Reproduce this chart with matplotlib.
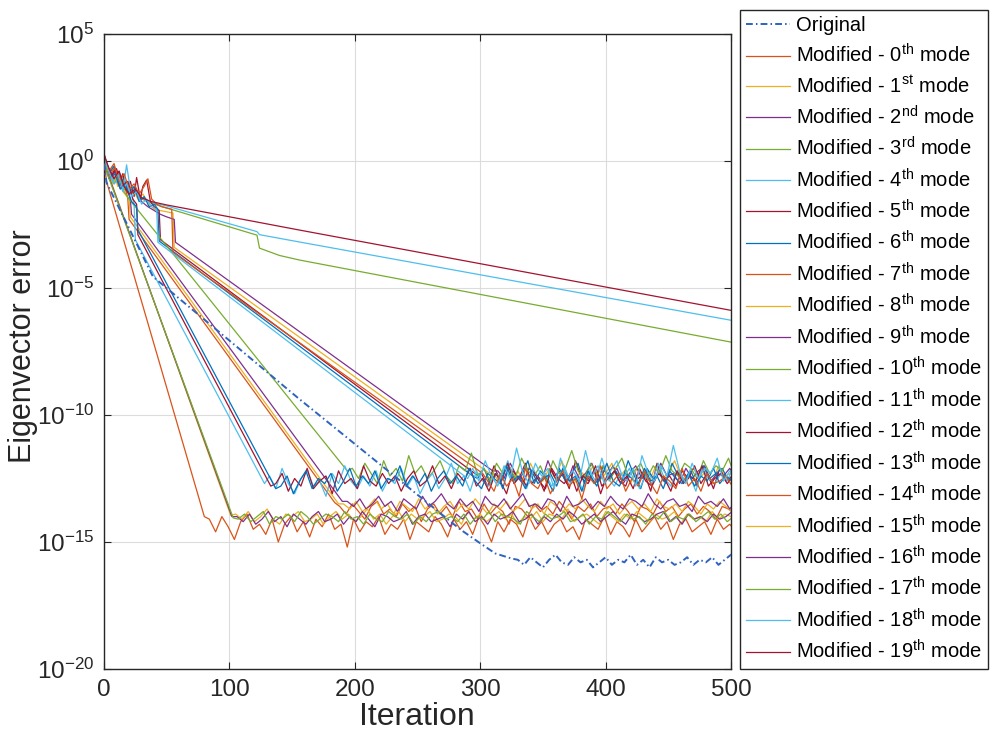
import numpy as np
import matplotlib
matplotlib.use("Agg")
import matplotlib.pyplot as plt
from matplotlib.ticker import FixedLocator, NullLocator

plt.rcParams['font.family'] = ['Liberation Sans', 'DejaVu Sans']
plt.rcParams['mathtext.fontset'] = 'custom'
plt.rcParams['mathtext.rm'] = 'Liberation Sans'
plt.rcParams['mathtext.it'] = 'Liberation Sans:italic'
plt.rcParams['mathtext.bf'] = 'Liberation Sans:bold'
plt.rcParams['mathtext.sf'] = 'Liberation Sans'

# ---------------- data (log10 of eigenvector error) ----------------
# head: breakpoints (iteration, log10 error); floor: log10 error x10, every 5 iterations
orig_hx = [0, 2, 39, 154, 219, 284, 300, 312, 325]
orig_hy = [-0.1, -0.85, -4.55, -9.3, -11.9, -14.5, -15.05, -15.45, -15.65]
orig_f0 = 330
orig_floor = [-157,-159,-156,-158,-160,-157,-155,-158,-159,-156,
              -158,-157,-160,-158,-156,-159,-157,-158,-155,-159,
              -157,-160,-156,-158,-157,-159,-158,-156,-159,-157,
              -158,-156,-159,-157,-155,-156,-158,-157,-156,-155]

m0_hx = [0, 2, 80]
m0_hy = [0.05, -0.8, -14.0]
m0_f0 = 84
m0_floor = [-141,-146,-140,-144,-149,-142,-139,-145,-143,-147,
            -141,-150,-143,-140,-146,-142,-148,-141,-144,-139,
            -145,-143,-152,-141,-146,-142,-144,-140,-147,-143,
            -145,-141,-149,-142,-144,-146,-140,-143,-148,-141,
            -145,-142,-147,-140,-144,-150,-142,-146,-141,-143,
            -148,-140,-145,-142,-147,-143,-141,-146,-144,-149,
            -141,-143,-145,-140,-147,-142,-144,-148,-141,-146,
            -143,-140,-145,-142,-149,-143,-141,-146,-144,-142,
            -147,-141,-145,-143,-146,-142,-144,-148,-141,-145]

m1_hx = [0, 3, 7, 11, 14, 19, 23, 27, 31, 36, 40, 45, 50, 55, 56, 306]
m1_hy = [0.15, -0.5, -0.3, -1.0, -0.6, -1.2, -1.1, -1.5, -1.3, -1.7, -1.9, -1.95, -2.0, -2.05, -3.4, -12.25]
m1_f0 = 310
m1_floor = [-123,-126,-120,-125,-122,-127,-119,-124,-126,-121,
            -125,-118,-124,-127,-122,-125,-120,-126,-123,-119,
            -125,-122,-127,-121,-124,-126,-120,-125,-123,-118,
            -124,-126,-121,-125,-122,-127,-120,-124,-123,-125,
            -122,-124]

m2_hx = [0, 4, 8, 12, 16, 20, 25, 30, 35, 40, 45, 50, 56, 57, 310]
m2_hy = [0.1, -0.3, -0.7, -0.4, -1.0, -1.3, -1.2, -1.6, -1.8, -1.95, -2.1, -2.2, -2.3, -3.2, -12.2]
m2_f0 = 314
m2_floor = [-122,-125,-119,-124,-127,-121,-123,-126,-118,-124,
            -122,-127,-120,-125,-123,-119,-126,-122,-124,-121,
            -127,-123,-120,-125,-122,-126,-119,-124,-123,-127,
            -121,-125,-122,-120,-126,-123,-124,-121,-125,-123,
            -122,-124]

m3_hx = [0, 4, 8, 12, 16, 20, 25, 30, 40, 50, 122, 124, 140, 156, 500]
m3_hy = [0.2, -0.4, -0.8, -0.5, -1.1, -1.3, -1.2, -1.5, -1.7, -1.85, -2.92, -3.43, -3.72, -3.9, -7.13]
m3_f0 = 500
m3_floor = []

m4_hx = [0, 3, 7, 11, 15, 19, 23, 28, 35, 50, 122, 124, 156, 500]
m4_hy = [0.1, -0.5, -0.2, -0.9, -0.6, -1.2, -1.0, -1.4, -1.6, -1.77, -2.78, -2.9, -3.19, -6.27]
m4_f0 = 500
m4_floor = []

m5_hx = [0, 3, 6, 9, 12, 15, 18, 21, 24, 26, 29, 31, 34, 37, 40, 44, 45, 297]
m5_hy = [0.3, -0.2, -0.6, -0.3, -0.9, -0.5, -1.2, -0.8, -1.4, -0.65, -1.5, -1.0, -0.75, -1.6, -1.8, -1.95, -3.1, -12.35]
m5_f0 = 301
m5_floor = [-123,-128,-120,-126,-131,-122,-125,-119,-127,-124,
            -130,-121,-126,-123,-129,-118,-125,-127,-122,-131,
            -124,-120,-126,-128,-121,-125,-123,-130,-119,-126,
            -124,-128,-122,-125,-120,-127,-123,-129,-121,-126,
            -124,-127,-122,-125]

m6_hx = [0, 4, 8, 12, 16, 20, 24, 28, 32, 36, 40, 43, 44, 294]
m6_hy = [0.1, -0.5, -0.2, -0.9, -0.7, -1.3, -1.0, -1.6, -1.4, -1.8, -1.7, -1.9, -3.15, -12.4]
m6_f0 = 298
m6_floor = [-125,-121,-127,-123,-129,-120,-126,-124,-118,-127,
            -122,-125,-130,-121,-126,-123,-119,-127,-124,-128,
            -120,-125,-122,-126,-118,-124,-129,-121,-125,-123,
            -127,-119,-124,-126,-122,-128,-120,-125,-123,-121,
            -126,-124,-122,-125,-123]

m7_hx = [0, 4, 8, 12, 16, 19, 20, 184]
m7_hy = [0.2, -0.6, -0.3, -1.0, -0.8, -1.5, -2.3, -13.45]
m7_f0 = 188
m7_floor = [-136,-139,-135,-138,-141,-136,-134,-139,-137,-140,
            -135,-138,-136,-142,-137,-135,-139,-136,-140,-134,
            -138,-137,-141,-135,-139,-136,-138,-143,-136,-137,
            -140,-135,-138,-136,-139,-134,-137,-141,-136,-138,
            -135,-140,-137,-136,-139,-135,-138,-142,-136,-137,
            -139,-134,-138,-136,-140,-137,-135,-139,-136,-138,
            -141,-136,-137,-139,-135,-138,-136,-139]

m8_hx = [0, 3, 7, 11, 15, 20, 21, 187]
m8_hy = [0.1, -0.4, -0.9, -0.6, -1.2, -1.5, -2.2, -13.5]
m8_f0 = 191
m8_floor = [-135,-137,-134,-138,-136,-133,-137,-135,-139,-134,
            -136,-138,-133,-137,-135,-139,-136,-134,-138,-135,
            -137,-133,-136,-139,-135,-137,-134,-138,-136,-133,
            -137,-135,-139,-134,-136,-138,-135,-137,-133,-136,
            -138,-134,-137,-135,-139,-136,-134,-137,-135,-138,
            -133,-136,-137,-135,-138,-134,-136,-139,-135,-137,
            -134,-136,-138,-135,-137,-134,-136,-138]

m9_hx = [0, 5, 9, 13, 17, 21, 22, 190]
m9_hy = [0.0, -0.7, -0.4, -1.1, -0.9, -1.5, -2.1, -13.4]
m9_f0 = 194
m9_floor = [-134,-136,-133,-137,-135,-132,-136,-134,-138,-133,
            -135,-137,-132,-136,-134,-131,-135,-137,-133,-136,
            -134,-138,-132,-135,-136,-133,-137,-134,-131,-136,
            -135,-137,-133,-134,-138,-132,-136,-135,-133,-137,
            -134,-136,-132,-135,-137,-133,-134,-136,-131,-135,
            -137,-134,-133,-136,-135,-138,-132,-135,-134,-136,
            -133,-137,-134,-135,-136,-133,-135]

m10_hx = [0, 4, 8, 12, 16, 20, 194]
m10_hy = [0.1, -0.5, -0.9, -0.6, -1.2, -1.5, -12.2]
m10_f0 = 198
m10_floor = [-121,-125,-119,-123,-127,-118,-124,-121,-126,-116,
             -123,-120,-125,-122,-118,-124,-127,-120,-122,-115,
             -124,-121,-126,-119,-123,-120,-125,-117,-122,-124,
             -120,-126,-118,-123,-121,-114,-122,-125,-119,-123,
             -120,-126,-121,-117,-124,-122,-119,-125,-120,-123,
             -116,-122,-124,-119,-121,-125,-118,-123,-120,-122,
             -117,-124,-121,-123,-119,-122]

m11_hx = [0, 4, 8, 12, 15, 18, 21, 24, 25, 128]
m11_hy = [0.15, -0.4, -0.9, -0.7, -1.2, -0.15, -1.1, -1.7, -3.1, -12.7]
m11_f0 = 132
m11_floor = [-124,-129,-121,-127,-131,-125,-122,-128,-126,-132,
             -123,-127,-120,-126,-129,-124,-128,-122,-130,-125,
             -127,-121,-128,-124,-131,-126,-123,-129,-125,-119,
             -127,-124,-130,-122,-126,-128,-123,-125,-118,-127,
             -124,-129,-121,-126,-123,-128,-125,-120,-127,-124,
             -130,-122,-126,-117,-125,-128,-123,-126,-121,-129,
             -124,-127,-119,-125,-128,-122,-126,-124,-130,-121,
             -125,-127,-123,-126,-120,-125,-122,-127,-124,-126]

m12_hx = [0, 5, 10, 14, 19, 23, 26, 27, 133]
m12_hy = [0.2, -0.6, -0.3, -1.0, -0.8, -1.5, -1.7, -2.9, -12.8]
m12_f0 = 137
m12_floor = [-127,-123,-130,-125,-128,-121,-129,-126,-124,-131,
             -122,-127,-125,-129,-120,-126,-128,-123,-127,-124,
             -130,-125,-122,-128,-126,-120,-127,-124,-129,-123,
             -126,-121,-128,-125,-130,-123,-126,-119,-127,-124,
             -128,-122,-126,-129,-121,-125,-127,-123,-130,-124,
             -126,-120,-128,-125,-122,-127,-124,-129,-121,-126,
             -128,-123,-125,-130,-122,-127,-124,-126,-120,-128,
             -125,-123,-127,-124,-126,-122,-128,-125,-123,-126]

m13_hx = [0, 4, 9, 13, 17, 22, 26, 27, 137]
m13_hy = [0.0, -0.7, -0.5, -1.1, -0.9, -1.6, -1.8, -2.7, -12.9]
m13_f0 = 141
m13_floor = [-128,-124,-131,-126,-122,-129,-125,-127,-123,-130,
             -126,-121,-128,-124,-127,-122,-129,-125,-126,-120,
             -128,-124,-127,-123,-130,-125,-122,-127,-124,-128,
             -121,-126,-129,-123,-125,-127,-120,-126,-124,-129,
             -122,-127,-125,-123,-128,-121,-126,-124,-130,-122,
             -127,-125,-119,-126,-128,-123,-125,-127,-121,-126,
             -124,-129,-122,-125,-127,-123,-128,-124,-126,-121,
             -127,-124,-126,-122,-128,-125,-123,-127,-124,-126]

m14_hx = [0, 4, 8, 12, 16, 20, 24, 28, 32, 35, 38, 42, 46, 50, 54, 55, 302]
m14_hy = [0.2, -0.4, -0.1, -0.8, -0.5, -1.1, -0.9, -1.3, -1.0, -0.7, -1.5, -1.7, -1.8, -1.85, -1.9, -3.6, -12.3]
m14_f0 = 306
m14_floor = [-126,-130,-123,-128,-125,-132,-121,-127,-129,-124,
             -131,-126,-122,-128,-125,-133,-124,-127,-120,-129,
             -126,-123,-130,-125,-128,-122,-127,-131,-124,-126,
             -129,-121,-128,-125,-130,-123,-127,-126,-124,-128,
             -125,-127,-126]

m15_hx = [0, 3, 101]
m15_hy = [0.1, -0.45, -13.95]
m15_f0 = 105
m15_floor = [-139,-141,-138,-142,-140,-137,-141,-143,-139,-140,
             -138,-142,-141,-139,-143,-140,-138,-141,-139,-142,
             -140,-137,-141,-139,-143,-140,-138,-142,-139,-141,
             -140,-138,-142,-141,-139,-140,-143,-138,-141,-139,
             -142,-140,-138,-141,-139,-143,-140,-141,-138,-142,
             -139,-140,-141,-137,-142,-140,-139,-141,-143,-138,
             -140,-142,-139,-141,-138,-140,-142,-139,-141,-140,
             -138,-143,-139,-141,-140,-142,-138,-141,-139,-140,
             -141,-139,-142,-140,-138]

m16_hx = [0, 3, 102]
m16_hy = [-0.05, -0.5, -14.0]
m16_f0 = 106
m16_floor = [-140,-142,-139,-143,-141,-138,-142,-140,-144,-139,
             -141,-143,-140,-138,-142,-141,-139,-143,-140,-142,
             -138,-141,-144,-139,-140,-142,-141,-138,-143,-140,
             -139,-142,-141,-140,-144,-139,-141,-138,-142,-140,
             -143,-139,-141,-140,-138,-142,-141,-139,-143,-140,
             -142,-139,-141,-138,-140,-143,-141,-139,-142,-140,
             -138,-141,-143,-139,-140,-142,-141,-139,-138,-142,
             -140,-143,-139,-141,-140,-142,-139,-141,-140,-138,
             -142,-140,-141,-139,-142]

m17_hx = [0, 3, 103]
m17_hy = [0.05, -0.55, -14.05]
m17_f0 = 107
m17_floor = [-141,-139,-142,-140,-138,-143,-140,-141,-139,-142,
             -138,-140,-143,-141,-139,-140,-142,-138,-141,-140,
             -143,-139,-141,-142,-138,-140,-141,-139,-143,-140,
             -142,-139,-138,-141,-140,-142,-139,-143,-140,-141,
             -138,-142,-139,-140,-141,-143,-138,-140,-142,-139,
             -141,-140,-138,-142,-141,-139,-143,-140,-141,-138,
             -140,-142,-139,-141,-140,-143,-139,-141,-138,-142,
             -140,-141,-139,-142,-140,-138,-141,-139,-142,-140,
             -141,-139,-140,-142,-139]

m18_hx = [0, 3, 7, 11, 15, 18, 22, 26, 30, 34, 38, 42, 43, 290]
m18_hy = [0.2, -0.3, -0.8, -0.5, -1.1, -0.9, -1.4, -1.2, -1.7, -1.5, -1.8, -1.9, -3.2, -12.5]
m18_f0 = 294
m18_floor = [-121,-126,-118,-124,-128,-120,-125,-113,-123,-127,
             -119,-124,-121,-129,-117,-125,-122,-126,-114,-124,
             -120,-127,-122,-118,-125,-121,-128,-116,-123,-126,
             -120,-124,-112,-122,-127,-119,-125,-121,-123,-117,
             -126,-122,-124,-120,-125,-122]

m19_hx = [0, 4, 8, 12, 16, 20, 25, 30, 38, 50, 156, 500]
m19_hy = [0.25, -0.3, -0.7, -0.4, -1.0, -1.3, -1.1, -1.45, -1.6, -1.73, -2.72, -5.88]
m19_f0 = 500
m19_floor = []

mode_labels = [
    r'Modified - 0$^{\mathrm{th}}$ mode', r'Modified - 1$^{\mathrm{st}}$ mode',
    r'Modified - 2$^{\mathrm{nd}}$ mode', r'Modified - 3$^{\mathrm{rd}}$ mode',
] + [r'Modified - %d$^{\mathrm{th}}$ mode' % k for k in range(4, 20)]

x_ticks = [0, 100, 200, 300, 400, 500]
y_tick_exponents = [-20, -15, -10, -5, 0, 5]

# MATLAB default colour order
matlab_colors = ['#0072BD', '#D95319', '#EDB120', '#7E2F8E', '#77AC30', '#4DBEEE', '#A2142F']

heads_x = [m0_hx, m1_hx, m2_hx, m3_hx, m4_hx, m5_hx, m6_hx, m7_hx, m8_hx, m9_hx,
           m10_hx, m11_hx, m12_hx, m13_hx, m14_hx, m15_hx, m16_hx, m17_hx, m18_hx, m19_hx]
heads_y = [m0_hy, m1_hy, m2_hy, m3_hy, m4_hy, m5_hy, m6_hy, m7_hy, m8_hy, m9_hy,
           m10_hy, m11_hy, m12_hy, m13_hy, m14_hy, m15_hy, m16_hy, m17_hy, m18_hy, m19_hy]
floor_starts = [m0_f0, m1_f0, m2_f0, m3_f0, m4_f0, m5_f0, m6_f0, m7_f0, m8_f0, m9_f0,
                m10_f0, m11_f0, m12_f0, m13_f0, m14_f0, m15_f0, m16_f0, m17_f0, m18_f0, m19_f0]
floors = [m0_floor, m1_floor, m2_floor, m3_floor, m4_floor, m5_floor, m6_floor, m7_floor,
          m8_floor, m9_floor, m10_floor, m11_floor, m12_floor, m13_floor, m14_floor,
          m15_floor, m16_floor, m17_floor, m18_floor, m19_floor]


def build(hx, hy, f0, floor):
    fx = f0 + 5 * np.arange(len(floor))
    x = np.concatenate([np.asarray(hx, float), fx.astype(float)])
    y = np.concatenate([np.asarray(hy, float), np.asarray(floor, float) / 10.0])
    return x, 10.0 ** y


# ---------------- figure ----------------
fig = plt.figure(figsize=(9.96, 7.40), dpi=100)
ax = fig.add_axes([104 / 996, 1 - 669 / 740, (731 - 104) / 996, (669 - 34) / 740])

handles = []
ox, oy = build(orig_hx, orig_hy, orig_f0, orig_floor)
h, = ax.plot(ox, oy, color='#2F63C0', lw=1.4, linestyle=(0, (3.5, 1.6, 0.8, 1.6)),
             label='Original', zorder=3)
handles.append(h)
for k in range(20):
    x, y = build(heads_x[k], heads_y[k], floor_starts[k], floors[k])
    h, = ax.plot(x, y, color=matlab_colors[(k + 1) % 7], lw=0.9, label=mode_labels[k], zorder=2)
    handles.append(h)

ax.set_yscale('log')
ax.set_xlim(0, 500)
ax.set_ylim(1e-20, 1e5)
ax.xaxis.set_major_locator(FixedLocator(x_ticks))
ax.yaxis.set_major_locator(FixedLocator([10.0 ** e for e in y_tick_exponents]))
ax.yaxis.set_minor_locator(NullLocator())
ax.xaxis.set_minor_locator(NullLocator())
ax.grid(True, color='#DCDCDC', linewidth=0.8)
ax.set_axisbelow(True)
ax.tick_params(direction='in', length=5, width=0.8, top=True, right=True,
               labelsize=17.5, colors='#262626', pad=7)
for s in ax.spines.values():
    s.set_color('#262626')
    s.set_linewidth(1.0)

fig.text(23 / 996, 1 - 346 / 740, 'Eigenvector error', rotation=90, ha='center', va='center',
         fontsize=22, color='#262626')
fig.text(417 / 996, 1 - 717 / 740, 'Iteration', ha='center', va='center',
         fontsize=23, color='#262626')

leg = fig.legend(handles=handles, loc='upper left', bbox_to_anchor=(740 / 996, 1 - 10 / 740),
                 fontsize=14.5, frameon=True, fancybox=False, framealpha=1,
                 edgecolor='#262626', borderaxespad=0, borderpad=0.32,
                 labelspacing=0.41, handlelength=2.15, handletextpad=0.3)
leg.get_frame().set_linewidth(1.0)

fig.savefig('out.png', dpi=100)
